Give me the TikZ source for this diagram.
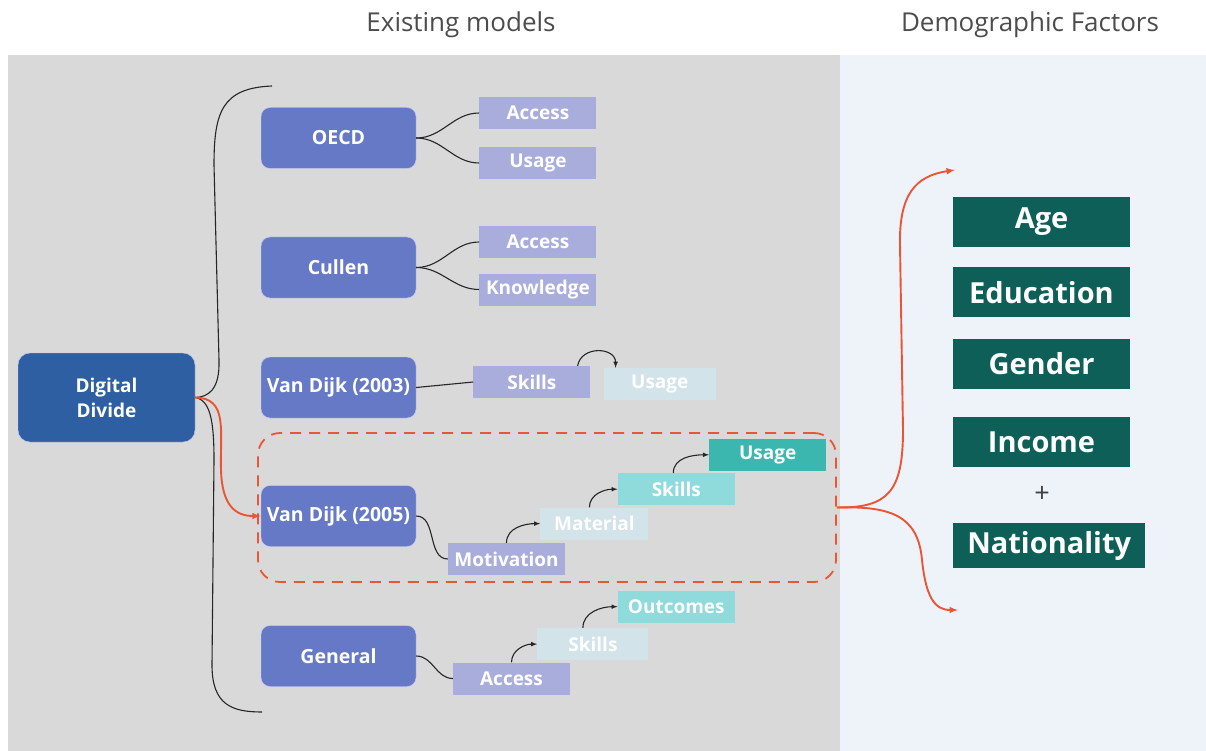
\documentclass[tikz,border=0pt]{standalone}
\usepackage{fontspec}
\setmainfont{Open Sans}
\usetikzlibrary{positioning,arrows,shapes,calc}
\definecolor{bggray}{HTML}{D9D9D9}
\definecolor{bgblue}{HTML}{EEF3FA}
\definecolor{ddblue}{HTML}{2E5FA3}
\definecolor{modblue}{HTML}{6579C6}
\definecolor{subpurple}{HTML}{A9ADDC}
\definecolor{palebox}{HTML}{D3E3EA}
\definecolor{lteal}{HTML}{8FDADB}
\definecolor{teal}{HTML}{3CB7B0}
\definecolor{facgreen}{HTML}{0E5F58}
\definecolor{redc}{HTML}{EA5535}
\tikzstyle{ttl}=[text=black!70, font=\fontsize{26}{30}\selectfont]
\tikzstyle{ddbox}=[rectangle, rounded corners=12pt, draw=blue!25!white, fill=ddblue, text=white,
                   font=\bfseries\fontsize{19}{25}\selectfont, minimum width=177pt,
                   minimum height=89pt, inner sep=0pt, align=center]
\tikzstyle{mbox}=[rectangle, rounded corners=9pt, draw=blue!20!white, fill=modblue, text=white,
                  font=\bfseries\fontsize{19.5}{22}\selectfont, minimum width=155pt,
                  minimum height=61pt, inner sep=0pt]
\tikzstyle{sbox}=[rectangle, fill=subpurple, text=white, font=\bfseries\fontsize{19}{22}\selectfont,
                  minimum width=117pt, minimum height=32pt, inner sep=0pt]
\tikzstyle{pbox}=[sbox, fill=palebox]
\tikzstyle{lbox}=[sbox, fill=lteal]
\tikzstyle{tbox}=[sbox, fill=teal]
\tikzstyle{fbox}=[rectangle, fill=facgreen, text=white, font=\bfseries\fontsize{29}{34}\selectfont,
                  minimum width=177pt, minimum height=50pt, inner sep=0pt]
\tikzstyle{hlbox}=[rectangle, rounded corners=22pt, draw=redc, dashed, dash pattern=on 11pt off 8pt,
                   line width=1.8pt, minimum width=578pt, minimum height=149pt]
\tikzstyle{cline}=[-, black!85, line width=1.1pt]
\tikzstyle{sarrow}=[-latex, black!85, line width=1.1pt]
\tikzstyle{rline}=[-latex, redc, line width=1.9pt]

\begin{document}
\begin{tikzpicture}[x=1pt,y=-1pt]
\useasboundingbox (0,0) rectangle (1206,751);
\fill[bggray] (8,55) rectangle (840,751);
\fill[bgblue] (840,55) rectangle (1206,751);

\node (EXIST) [ttl] at (461,25) {Existing models};
\node (DEMO) [ttl] at (1030,25) {Demographic Factors};

\node (DD) [ddbox] at (106.5,397.5) {Digital\\Divide};

\node (OECD) [mbox] at (338.5,138) {OECD};
\node (CUL) [mbox] at (338.5,267.5) {Cullen};
\node (VD03) [mbox] at (338.5,387.5) {Van Dijk (2003)};
\node (VD05) [mbox] at (338.5,516) {Van Dijk (2005)};
\node (GEN) [mbox] at (338.5,656) {General};

\node (HL) [hlbox] at (547,507.5) {};

% OECD and Cullen
\node (OA) [sbox, right=63pt of OECD, yshift=25pt] {Access};
\node (OU) [sbox, right=63pt of OECD, yshift=-25pt] {Usage};
\draw[cline] (OECD.east) to[out=0,in=180] (OA.west);
\draw[cline] (OECD.east) to[out=0,in=180] (OU.west);
\node (CA) [sbox, right=63pt of CUL, yshift=25.5pt] {Access};
\node (CK) [sbox, right=63pt of CUL, yshift=-22pt] {Knowledge};
\draw[cline] (CUL.east) to[out=0,in=180] (CA.west);
\draw[cline] (CUL.east) to[out=0,in=180] (CK.west);

% Van Dijk (2003)
\node (SK03) [sbox, right=57pt of VD03, yshift=5.5pt] {Skills};
\node (U03) [pbox, minimum width=112pt, right=13pt of SK03, yshift=-2pt] {Usage};
\draw[cline] (VD03.east) -- (SK03.west);
\draw[sarrow] ([xshift=-13pt]SK03.north east) to[out=80,in=90,looseness=1.4] ([xshift=12pt]U03.north west);

% Van Dijk (2005)
\node (MOT) [sbox] at (506.5,559) {Motivation};
\node (MAT) [pbox, minimum width=108pt, above right=3pt and -25pt of MOT] {Material};
\node (SK05) [lbox, above right=2pt and -31pt of MAT] {Skills};
\node (U05) [tbox, above right=2pt and -26pt of SK05] {Usage};
\draw[cline] (VD05.east) to[out=0,in=180] (MOT.west);
\draw[sarrow] (MOT.north) to[out=90,in=180] (MAT.west);
\draw[sarrow] ([xshift=-5pt]MAT.north) to[out=90,in=180] (SK05.west);
\draw[sarrow] ([xshift=-3pt]SK05.north) to[out=90,in=180] (U05.west);

% General
\node (GA) [sbox] at (511.5,678.5) {Access};
\node (GS) [pbox, minimum width=111pt, above right=2pt and -33pt of GA] {Skills};
\node (GO) [lbox, above right=5pt and -31pt of GS] {Outcomes};
\draw[cline] (GEN.east) to[out=0,in=180] (GA.west);
\draw[sarrow] (GA.north) to[out=90,in=180] (GS.west);
\draw[sarrow] ([xshift=-10pt]GS.north) to[out=90,in=180] (GO.west);

% brace
\coordinate (BT) at (272,86);
\coordinate (BB) at (262,712);
\draw[cline] (BT) .. controls (222,88) and (214,112) .. (214,165) -- (219,360)
      .. controls (220,390) and (208,397) .. (DD.east);
\draw[cline] (DD.east) .. controls (210,400) and (214,420) .. (214,460) -- (212,665)
      .. controls (212,705) and (232,712) .. (BB);
\draw[rline] (DD.east) .. controls (228,398) and (220,430) .. (221,470)
      .. controls (222,505) and (235,516) .. (VD05.west);

% factors
\node (AGE) [fbox] at (1041.5,222) {Age};
\node (EDU) [fbox, below=20pt of AGE] {Education};
\node (GND) [fbox, below=21pt of EDU] {Gender};
\node (INC) [fbox, below=28pt of GND] {Income};
\node (PLUS) [text=black!75, font=\fontsize{27}{30}\selectfont] at (1042,494) {+};
\node (NAT) [fbox, minimum width=192pt, minimum height=45pt, anchor=west] at (953,545.5) {Nationality};
\coordinate (FU) at (955,170);
\coordinate (FD) at (958,610);
\draw[rline] (HL.east) .. controls (888,508) and (903,492) .. (903,430) -- (900,245)
      .. controls (899,195) and (915,176) .. (FU);
\draw[rline] (HL.east) .. controls (890,506) and (918,515) .. (922,560)
      .. controls (926,598) and (935,610) .. (FD);
\end{tikzpicture}
\end{document}
